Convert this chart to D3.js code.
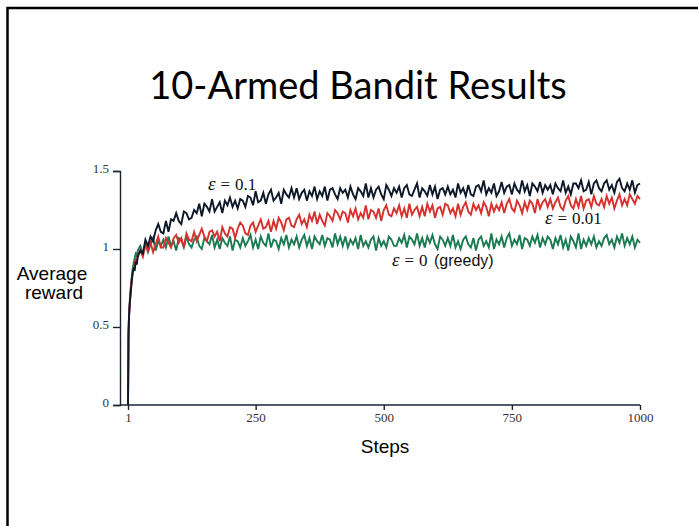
<!DOCTYPE html>
<html>
<head>
<meta charset="utf-8">
<script src="https://cdn.jsdelivr.net/npm/d3@7/dist/d3.min.js"></script>
<style>
  body { margin: 0; background: #fff; }
  svg { display: block; }
</style>
</head>
<body>
<div id="chart"></div>
<script>
// steps: dense at the start, then every 5 steps
var earlySteps = [1, 2, 3, 4, 6, 8, 10, 12, 14, 16, 18, 20]
var steps = earlySteps.concat(d3.range(25, 1001, 5))

// epsilon = 0.1 (black)
var eps01 = [
  0.00, 0.45, 0.56, 0.63, 0.71, 0.78, 0.84, 0.88, 0.86, 0.92, 0.90, 0.95,
  0.99, 0.97, 1.06, 1.02, 1.08, 1.05, 1.12, 1.16, 1.11, 1.10, 1.18, 1.11, 1.19, 1.18, 1.23, 1.18, 1.16, 1.24, 1.23, 1.19,
  1.20, 1.25, 1.23, 1.29, 1.21, 1.29, 1.27, 1.24, 1.32, 1.24, 1.27, 1.30, 1.23, 1.31, 1.28, 1.33, 1.27, 1.31, 1.26, 1.32,
  1.31, 1.27, 1.34, 1.33, 1.28, 1.37, 1.30, 1.31, 1.36, 1.29, 1.35, 1.38, 1.31, 1.33, 1.36, 1.29, 1.38, 1.35, 1.33, 1.39,
  1.33, 1.39, 1.32, 1.36, 1.38, 1.31, 1.37, 1.34, 1.40, 1.32, 1.37, 1.34, 1.40, 1.31, 1.38, 1.39, 1.35, 1.32, 1.39, 1.36,
  1.38, 1.33, 1.40, 1.35, 1.32, 1.39, 1.37, 1.34, 1.42, 1.33, 1.39, 1.33, 1.38, 1.40, 1.35, 1.32, 1.41, 1.38, 1.34, 1.39,
  1.36, 1.40, 1.33, 1.39, 1.41, 1.35, 1.34, 1.38, 1.42, 1.33, 1.39, 1.37, 1.34, 1.41, 1.35, 1.40, 1.32, 1.38, 1.39, 1.35,
  1.40, 1.35, 1.38, 1.33, 1.42, 1.36, 1.39, 1.34, 1.41, 1.35, 1.34, 1.40, 1.41, 1.37, 1.44, 1.35, 1.39, 1.36, 1.42, 1.34,
  1.37, 1.43, 1.36, 1.40, 1.41, 1.35, 1.42, 1.38, 1.36, 1.44, 1.37, 1.41, 1.34, 1.42, 1.40, 1.37, 1.43, 1.36, 1.41, 1.38,
  1.41, 1.35, 1.42, 1.39, 1.37, 1.44, 1.36, 1.40, 1.35, 1.42, 1.42, 1.39, 1.44, 1.37, 1.38, 1.43, 1.35, 1.42, 1.44, 1.39,
  1.37, 1.42, 1.44, 1.38, 1.41, 1.36, 1.43, 1.45, 1.39, 1.37, 1.42, 1.38, 1.44, 1.36, 1.41, 1.42
]

// epsilon = 0.01 (red)
var eps001 = [
  0.00, 0.47, 0.57, 0.62, 0.72, 0.80, 0.85, 0.87, 0.91, 0.93, 0.92, 0.96,
  0.99, 0.95, 1.03, 0.99, 1.04, 0.98, 1.03, 1.08, 1.01, 1.01, 1.07, 1.04, 1.01, 1.07, 1.09, 1.04, 1.07, 1.01, 1.10, 1.06,
  1.05, 1.11, 1.05, 1.09, 1.13, 1.08, 1.05, 1.11, 1.12, 1.08, 1.11, 1.05, 1.14, 1.10, 1.08, 1.14, 1.13, 1.07, 1.13, 1.17,
  1.15, 1.10, 1.09, 1.15, 1.17, 1.11, 1.15, 1.19, 1.13, 1.14, 1.18, 1.11, 1.18, 1.13, 1.20, 1.17, 1.12, 1.19, 1.20, 1.15,
  1.14, 1.19, 1.22, 1.16, 1.19, 1.14, 1.22, 1.18, 1.24, 1.16, 1.22, 1.18, 1.15, 1.23, 1.21, 1.18, 1.25, 1.23, 1.19, 1.24,
  1.23, 1.17, 1.25, 1.21, 1.26, 1.19, 1.23, 1.20, 1.28, 1.19, 1.25, 1.24, 1.20, 1.26, 1.18, 1.25, 1.28, 1.22, 1.21, 1.26,
  1.23, 1.28, 1.21, 1.26, 1.20, 1.29, 1.22, 1.25, 1.27, 1.21, 1.27, 1.21, 1.29, 1.24, 1.28, 1.20, 1.26, 1.27, 1.22, 1.29,
  1.28, 1.23, 1.26, 1.21, 1.29, 1.22, 1.27, 1.30, 1.24, 1.22, 1.29, 1.25, 1.28, 1.23, 1.30, 1.27, 1.21, 1.29, 1.24, 1.28,
  1.25, 1.30, 1.23, 1.29, 1.32, 1.26, 1.24, 1.31, 1.28, 1.23, 1.30, 1.25, 1.31, 1.29, 1.23, 1.32, 1.26, 1.30, 1.32, 1.27,
  1.32, 1.26, 1.30, 1.33, 1.27, 1.25, 1.31, 1.34, 1.28, 1.26, 1.32, 1.27, 1.34, 1.26, 1.31, 1.32, 1.27, 1.34, 1.29, 1.28,
  1.32, 1.27, 1.34, 1.29, 1.33, 1.26, 1.31, 1.35, 1.28, 1.32, 1.28, 1.35, 1.32, 1.29, 1.34, 1.32
]

// epsilon = 0, greedy (green)
var eps0 = [
  0.00, 0.46, 0.58, 0.65, 0.74, 0.81, 0.87, 0.91, 0.94, 0.97, 0.96, 0.99,
  1.02, 0.97, 1.03, 0.98, 1.03, 1.07, 0.99, 1.05, 1.02, 1.06, 1.01, 1.08, 1.02, 1.05, 0.99, 1.07, 1.06, 1.01, 1.08, 1.03,
  1.01, 1.06, 1.08, 1.02, 1.00, 1.07, 1.05, 1.03, 1.09, 1.01, 1.06, 1.00, 1.07, 1.04, 1.02, 1.08, 0.99, 1.06, 1.05, 1.01,
  1.07, 1.02, 1.05, 1.09, 1.01, 1.06, 1.00, 1.08, 1.04, 1.02, 1.10, 1.01, 1.06, 1.05, 1.00, 1.07, 1.03, 1.09, 1.01, 1.06,
  1.03, 1.08, 1.01, 1.06, 1.09, 1.02, 1.07, 1.00, 1.08, 1.05, 1.03, 1.09, 1.02, 1.07, 1.06, 1.01, 1.10, 1.03, 1.08, 1.02,
  1.08, 1.01, 1.06, 1.03, 1.07, 1.00, 1.09, 1.02, 1.05, 1.01, 1.06, 1.08, 0.99, 1.07, 1.02, 1.05, 1.01, 1.08, 1.06, 1.02,
  1.02, 1.07, 1.04, 1.09, 1.01, 1.08, 1.06, 1.03, 1.10, 1.02, 1.07, 1.01, 1.08, 1.04, 1.09, 1.03, 1.00, 1.08, 1.06, 1.02,
  1.07, 1.02, 1.09, 1.01, 1.05, 1.00, 1.06, 1.08, 1.03, 1.01, 1.07, 0.99, 1.06, 1.08, 1.02, 1.05, 1.01, 1.10, 1.00, 1.06,
  1.03, 1.08, 1.01, 1.07, 1.10, 1.02, 1.06, 1.03, 1.09, 1.00, 1.07, 1.06, 1.02, 1.08, 1.04, 1.09, 1.01, 1.07, 1.03, 1.08,
  1.06, 1.00, 1.07, 1.03, 1.09, 1.01, 1.06, 0.99, 1.08, 1.05, 1.01, 1.10, 1.00, 1.06, 1.02, 1.07, 1.03, 1.08, 1.01, 1.05,
  1.02, 1.07, 1.09, 1.03, 1.06, 1.01, 1.08, 1.04, 1.10, 1.02, 1.07, 1.03, 1.08, 1.01, 1.06, 1.04
]

var xTicks = [1, 250, 500, 750, 1000]
var yTicks = [0, 0.5, 1, 1.5]

var series = [
  { name: 'greedy', values: eps0, color: '#1a7a52' },
  { name: '0.01', values: eps001, color: '#d8302d' },
  { name: '0.1', values: eps01, color: '#0c1828' }
]

var width = 698, height = 526

var svg = d3.select('#chart').append('svg')
  .attr('width', width)
  .attr('height', height)

// slide frame
svg.append('path')
  .attr('d', 'M7.5,526V8H698')
  .attr('fill', 'none')
  .attr('stroke', '#000')
  .attr('stroke-width', 2.5)

svg.append('text')
  .attr('x', 358)
  .attr('y', 99)
  .attr('text-anchor', 'middle')
  .style('font-family', 'Lato, "Open Sans", sans-serif')
  .style('font-size', '38px')
  .attr('fill', '#000')
  .text('10-Armed Bandit Results')

var xScale = d3.scaleLinear().domain([1, 1000]).range([128, 640])
var yScale = d3.scaleLinear().domain([0, 1.5]).range([405, 171])
var axisX0 = 120

var line = d3.line()
  .x((d, i) => xScale(steps[i]))
  .y(d => yScale(d))

svg.append('g').attr('class', 'lines')
  .selectAll('path')
  .data(series).enter()
  .append('path')
  .attr('d', d => line(d.values))
  .attr('fill', 'none')
  .attr('stroke', d => d.color)
  .attr('stroke-width', 1.9)
  .attr('stroke-linejoin', 'miter')

/* axes */
var xAxis = d3.axisBottom(xScale).tickValues(xTicks).tickFormat(d3.format('d')).tickSizeOuter(0).tickSize(5).tickPadding(3)
var yAxis = d3.axisLeft(yScale).tickValues(yTicks).tickFormat(d3.format('')).tickSizeOuter(0).tickSize(7).tickPadding(4)

var gx = svg.append('g')
  .attr('transform', `translate(0, ${yScale(0)})`)
  .call(xAxis)
gx.select('.domain').attr('d', `M${axisX0},0H${xScale(1000)}`)

var gy = svg.append('g')
  .attr('transform', `translate(${axisX0}, 0)`)
  .call(yAxis)

svg.selectAll('.domain, .tick line')
  .attr('stroke', '#1a2430')
  .attr('stroke-width', 1.4)
svg.selectAll('.tick text')
  .style('font-family', '"Liberation Serif", "Times New Roman", serif')
  .style('font-size', '13px')
  .attr('fill', '#333')
gy.selectAll('.tick text').attr('dy', '0.15em')

/* axis titles */
var sans = '"Liberation Sans", Arial, sans-serif'
svg.append('text')
  .attr('x', 385).attr('y', 453)
  .attr('text-anchor', 'middle')
  .style('font-family', sans).style('font-size', '19px')
  .text('Steps')

var ylab = svg.append('text')
  .attr('text-anchor', 'middle')
  .style('font-family', sans).style('font-size', '19px')
ylab.append('tspan').attr('x', 52).attr('y', 280).text('Average')
ylab.append('tspan').attr('x', 54).attr('y', 299).text('reward')

/* series labels */
var serif = '"Liberation Serif", "Times New Roman", serif'
var labels = [
  { eps: '0.1', extra: '', x: 208, y: 190 },
  { eps: '0.01', extra: '', x: 545, y: 224 },
  { eps: '0', extra: ' (greedy)', x: 392, y: 266 }
]
labels.forEach(l => {
  var t = svg.append('text')
    .attr('x', l.x).attr('y', l.y)
    .style('font-family', serif).style('font-size', '17px')
    .attr('fill', '#111')
  t.append('tspan').style('font-style', 'italic').style('font-size', '19px').text('ε')
  t.append('tspan').attr('dx', 5).text('=')
  t.append('tspan').attr('dx', 5).text(l.eps)
  if (l.extra) {
    t.append('tspan').attr('dx', 2).style('font-family', sans).style('font-size', '16px').text(l.extra)
  }
})
</script>
</body>
</html>
